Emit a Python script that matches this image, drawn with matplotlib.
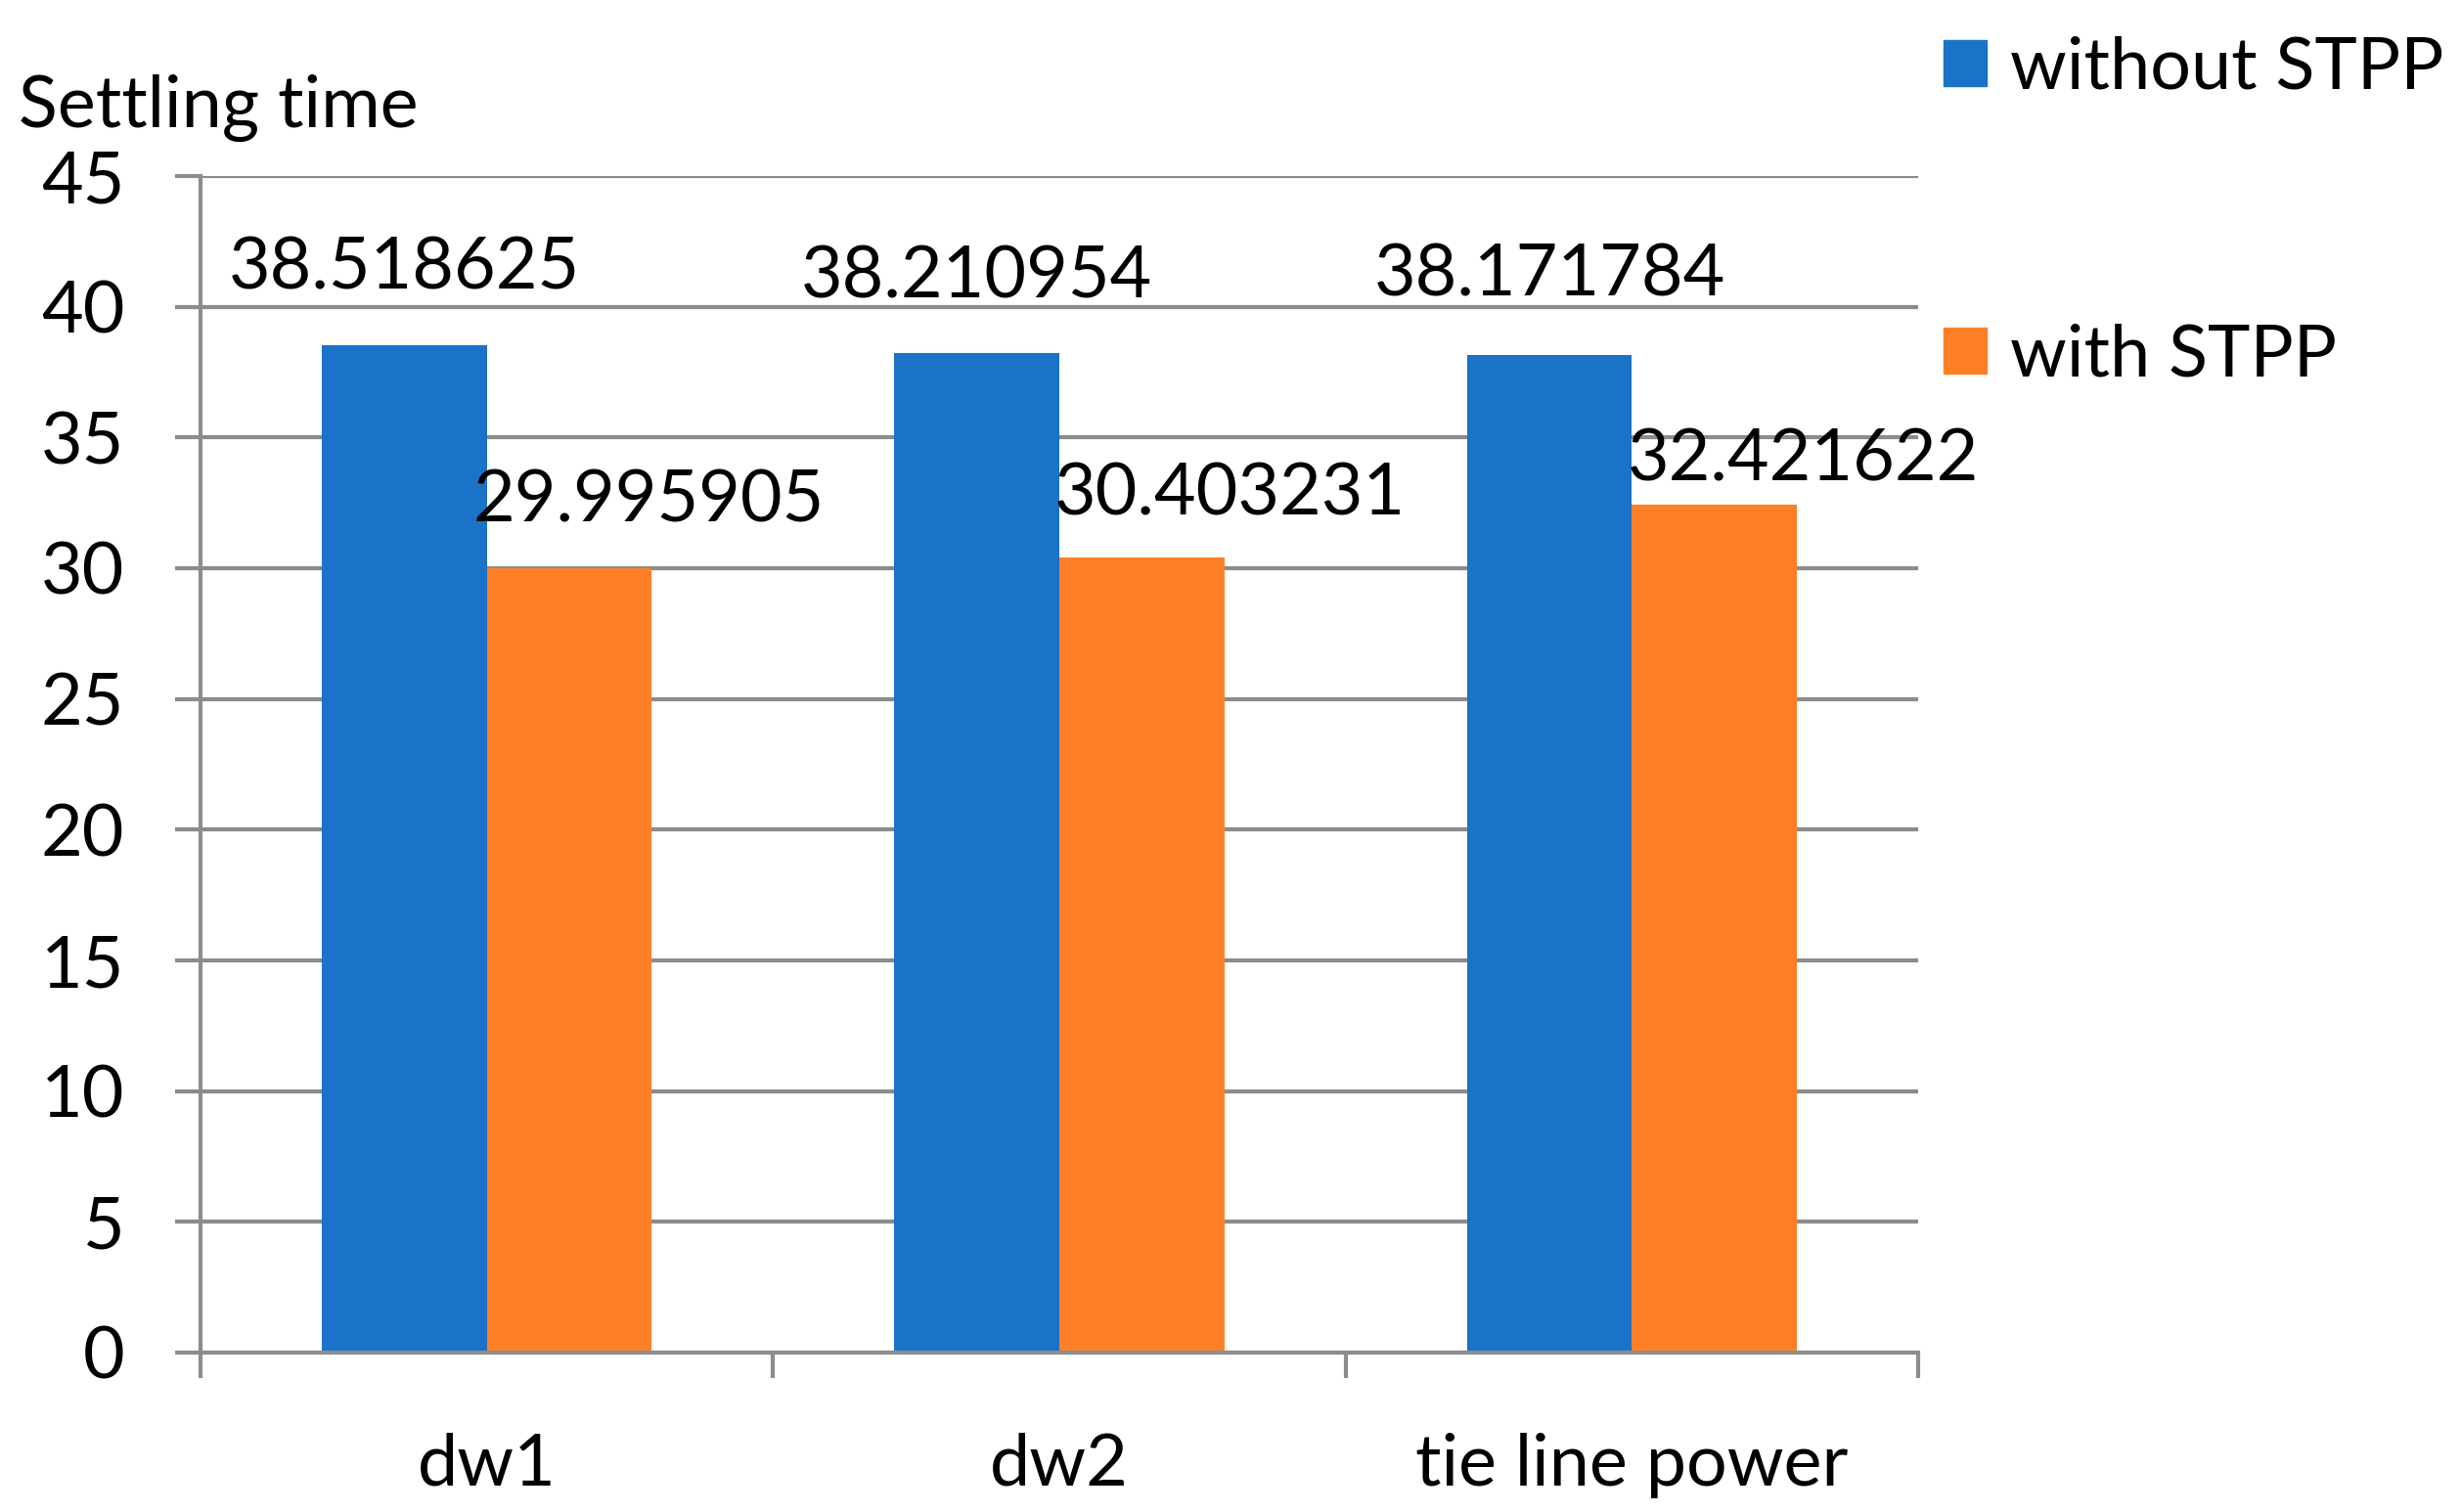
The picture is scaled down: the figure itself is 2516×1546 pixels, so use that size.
import numpy as np
import matplotlib
matplotlib.use("Agg")
import matplotlib.pyplot as plt  # noqa: E402
from matplotlib.patches import Patch  # noqa: E402

plt.rcParams['font.family'] = ['Lato', 'DejaVu Sans']

categories = ["dw1", "dw2", "tie line power"]
without_stpp = [38.518625, 38.210954, 38.171784]
with_stpp = [29.995905, 30.403231, 32.421622]
series_names = ["without STPP", "with STPP"]
yticks = [0, 5, 10, 15, 20, 25, 30, 35, 40, 45]

# label offsets in pixels (x, y) from bar top centre
off_without = [(0, 58), (0, 57), (0, 60)]
off_with = [(81, 48), (90, 44), (91, 25)]

blue = "#1A73C8"
orange = "#FF7F27"
grey = "#8C8C8C"
fs = 53

W, H = 2516, 1546
fig = plt.figure(figsize=(W / 100, H / 100), dpi=100)
ax = fig.add_axes([205 / W, 1 - 1383 / H, (1961 - 205) / W, (1383 - 180) / H])

ind = np.arange(len(categories))
width = 0.288
b0 = ax.bar(ind - width / 2, without_stpp, width, color=blue, zorder=2)
b1 = ax.bar(ind + width / 2, with_stpp, width, color=orange, zorder=2)

for rect, v, off in zip(b0, without_stpp, off_without):
    ax.annotate(f"{v:.6f}", (rect.get_x() + rect.get_width() / 2, v),
                xytext=off, textcoords="offset pixels", ha="center",
                va="baseline", fontsize=fs, zorder=3)
for rect, v, off in zip(b1, with_stpp, off_with):
    ax.annotate(f"{v:.6f}", (rect.get_x() + rect.get_width() / 2, v),
                xytext=off, textcoords="offset pixels", ha="center",
                va="baseline", fontsize=fs, zorder=3)

ax.set_xlim(-0.5, len(categories) - 0.5)
ax.set_ylim(0, 45)
ax.set_yticks(yticks)
ax.yaxis.grid(True, color=grey, linewidth=3)
ax.set_axisbelow(True)

ax.set_xticks(ind)
ax.set_xticklabels(categories)
ax.set_xticks(np.arange(len(categories) + 1) - 0.5, minor=True)
ax.tick_params(axis="x", which="major", length=0, pad=59, labelsize=fs)
ax.tick_params(axis="x", which="minor", length=19, width=3, color=grey)
ax.tick_params(axis="y", length=19, width=3, color=grey, pad=37, labelsize=fs)

for s in ["top", "right"]:
    ax.spines[s].set_visible(False)
for s in ["left", "bottom"]:
    ax.spines[s].set_color(grey)
    ax.spines[s].set_linewidth(3)

fig.text(19 / W, 1 - 130 / H, "Settling time", fontsize=fs, va="baseline")

handles = [Patch(color=blue), Patch(color=orange)]
fig.legend(handles, series_names, loc="upper left",
           bbox_to_anchor=(1950 / W, 1.0), frameon=False, borderpad=0,
           fontsize=fs, handlelength=0.6, handleheight=0.6,
           handletextpad=0.32, labelspacing=3.08)

fig.savefig("out.png", dpi=100)
